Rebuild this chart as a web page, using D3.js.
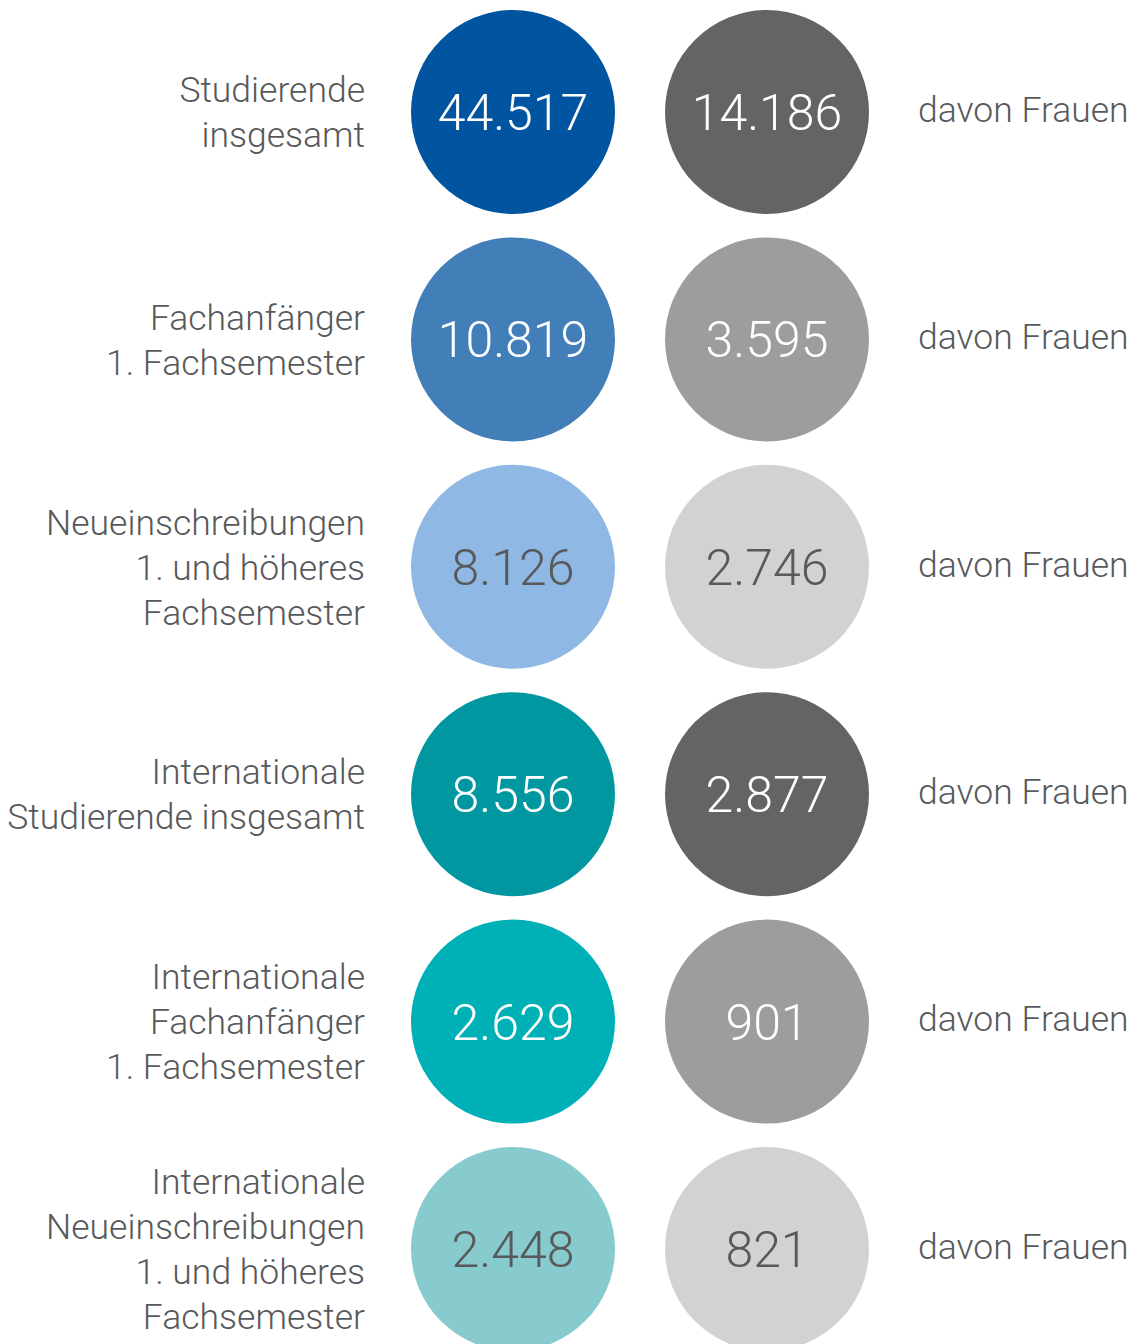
<!DOCTYPE html>
<html>
<head>
<meta charset="utf-8">
<script src="https://d3js.org/d3.v7.min.js"></script>
<style>
  body { margin: 0; background: #fff; }
  text { font-family: Roboto, "Noto Sans", sans-serif; font-weight: 300; }
</style>
</head>
<body>
<div id="chart"></div>
<script>
// data
var categories = ["studierende", "fachanfaenger", "neueinschreibungen",
                  "int_studierende", "int_fachanfaenger", "int_neueinschreibungen"];
var labels = [
  ["Studierende", "insgesamt"],
  ["Fachanfänger", "1. Fachsemester"],
  ["Neueinschreibungen", "1. und höheres", "Fachsemester"],
  ["Internationale", "Studierende insgesamt"],
  ["Internationale", "Fachanfänger", "1. Fachsemester"],
  ["Internationale", "Neueinschreibungen", "1. und höheres", "Fachsemester"]
];
var totals = [44517, 10819, 8126, 8556, 2629, 2448];
var women = [14186, 3595, 2746, 2877, 901, 821];
var womenLabel = "davon Frauen";

// styles
var totalColors = ["#0054a0", "#427fb9", "#8fb9e4", "#0097a0", "#00b0b7", "#88cbcf"];
var womenColors = ["#636466", "#9c9d9f", "#d1d2d4", "#636466", "#9c9d9f", "#d1d2d4"];
var darkText = "#58595b";

var width = 1138, height = 1344, r = 102;
var labelSize = 35.5, numSize = 50, lineGap = 45;

var de = d3.formatLocale({decimal: ",", thousands: ".", grouping: [3], currency: ["", " €"]});
var fmt = de.format(",d");

var y = d3.scalePoint().domain(categories).range([112, 1249]);
var x = d3.scalePoint().domain(["total", "women"]).range([513, 767]);
var cTotal = d3.scaleOrdinal().domain(categories).range(totalColors);
var cWomen = d3.scaleOrdinal().domain(categories).range(womenColors);

// white text on darker fills, grey text on the pale ones
function textColor(c) { return d3.hsl(c).l < 0.65 ? "#fff" : darkText; }

var rows = categories.map(function(k, i) {
  return {key: k, lines: labels[i], total: totals[i], women: women[i]};
});

var svg = d3.select("#chart").append("svg")
  .attr("width", width).attr("height", height);

var g = svg.selectAll("g.row").data(rows).enter().append("g")
  .attr("class", "row")
  .attr("transform", function(d) { return "translate(0," + y(d.key) + ")"; });

// labels on the left
g.append("text")
  .attr("text-anchor", "end")
  .attr("fill", darkText)
  .style("font-size", labelSize + "px")
  .selectAll("tspan")
  .data(function(d) { return d.lines.map(function(l, j) { return {t: l, j: j, n: d.lines.length}; }); })
  .enter().append("tspan")
    .attr("x", 365)
    .attr("y", function(d) { return (d.j - (d.n - 1) / 2) * lineGap + labelSize * 0.36; })
    .text(function(d) { return d.t; });

// circles
g.append("circle")
  .attr("cx", x("total")).attr("cy", 0).attr("r", r)
  .attr("fill", function(d) { return cTotal(d.key); });
g.append("circle")
  .attr("cx", x("women")).attr("cy", 0).attr("r", r)
  .attr("fill", function(d) { return cWomen(d.key); });

g.append("text")
  .attr("x", x("total")).attr("y", numSize * 0.36)
  .attr("text-anchor", "middle")
  .style("font-size", numSize + "px")
  .attr("fill", function(d) { return textColor(cTotal(d.key)); })
  .text(function(d) { return fmt(d.total); });
g.append("text")
  .attr("x", x("women")).attr("y", numSize * 0.36)
  .attr("text-anchor", "middle")
  .style("font-size", numSize + "px")
  .attr("fill", function(d) { return textColor(cWomen(d.key)); })
  .text(function(d) { return fmt(d.women); });

// right label
g.append("text")
  .attr("x", 918).attr("y", labelSize * 0.36 - 3)
  .attr("fill", darkText)
  .style("font-size", labelSize + "px")
  .text(womenLabel);
</script>
</body>
</html>
